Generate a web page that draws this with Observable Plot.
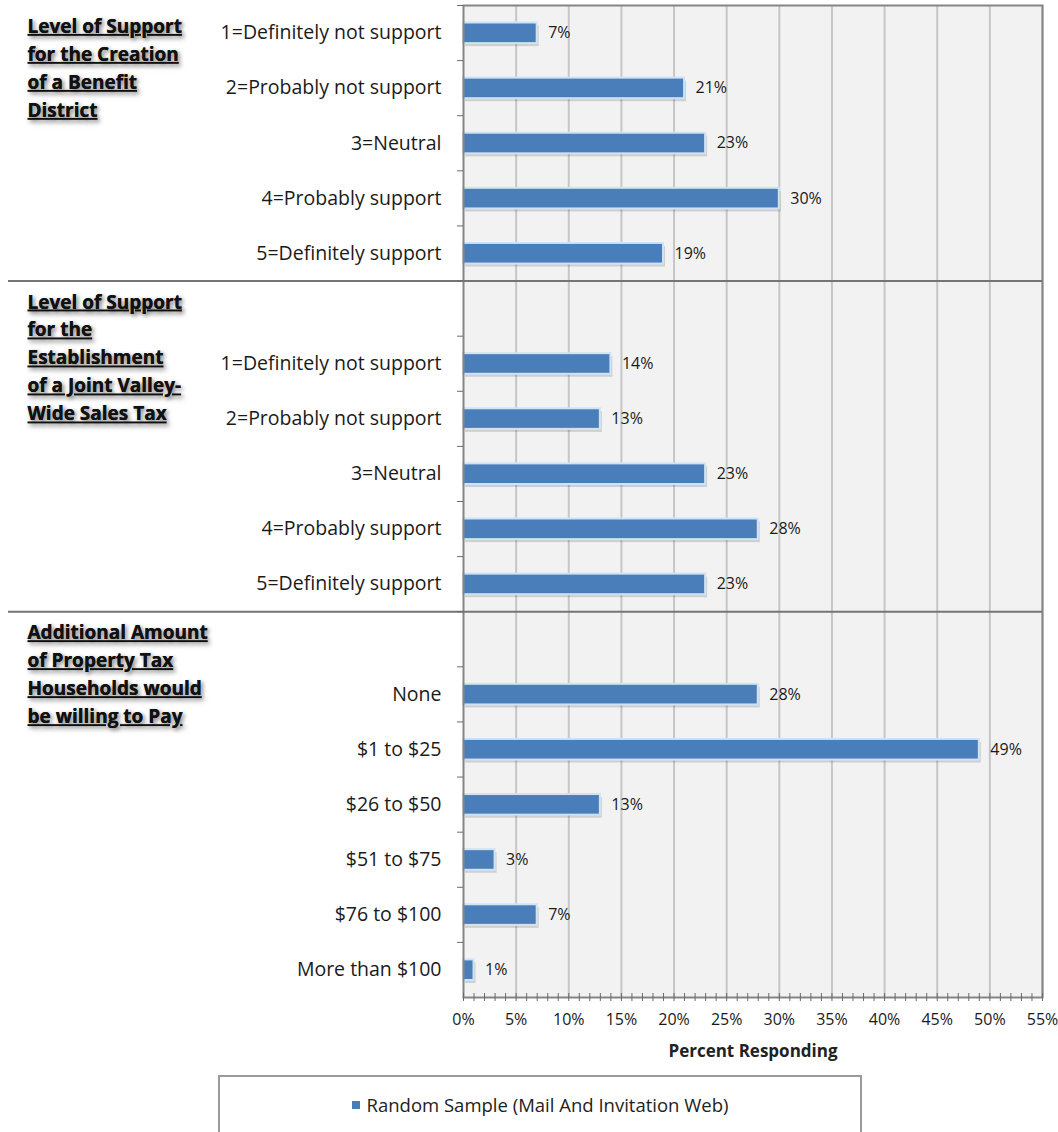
<!DOCTYPE html>
<html>
<head>
<meta charset="utf-8">
<script src="https://cdn.jsdelivr.net/npm/d3@7"></script>
<script src="https://cdn.jsdelivr.net/npm/@observablehq/plot@0.6"></script>
<style>
  body { margin: 0; background: #fff; font-family: "Open Sans", Lato, sans-serif; overflow: hidden; }
  #chart { position: absolute; left: 0; top: 0; }
  #legend {
    position: absolute; left: 218px; top: 1075px; width: 644px; height: 90px;
    box-sizing: border-box; border: 2px solid #9a9a9a; background: #fff;
    font-family: "Open Sans", sans-serif; font-size: 18.5px; color: #222;
  }
  #legend .item { position: absolute; top: 15px; left: 0; right: 0; text-align: center; }
  #legend .swatch { display: inline-block; width: 8px; height: 8px; background: #4a7ebb; margin-right: 7px; vertical-align: 3px; }
</style>
</head>
<body>
<div id="chart"></div>
<div id="legend"></div>
<script>
// ---- data ----
const benefitCats = ["1=Definitely not support", "2=Probably not support", "3=Neutral", "4=Probably support", "5=Definitely support"];
const benefitVals = [7, 21, 23, 30, 19];
const salesTaxCats = ["1=Definitely not support", "2=Probably not support", "3=Neutral", "4=Probably support", "5=Definitely support"];
const salesTaxVals = [14, 13, 23, 28, 23];
const propertyCats = ["None", "$1 to $25", "$26 to $50", "$51 to $75", "$76 to $100", "More than $100"];
const propertyVals = [28, 49, 13, 3, 7, 1];
const sectionTitles = [
  "Level of Support\nfor the Creation\nof a Benefit\nDistrict",
  "Level of Support\nfor the\nEstablishment\nof a Joint Valley-\nWide Sales Tax",
  "Additional Amount\nof Property Tax\nHouseholds would\nbe willing to Pay"
];
const xTicks = [0, 5, 10, 15, 20, 25, 30, 35, 40, 45, 50, 55];
const xMinorTicks = d3.range(0, 56, 1);
const seriesName = "Random Sample (Mail And Invitation Web)";
const xLabel = "Percent Responding";

// ---- build table ----
const sections = [
  {title: sectionTitles[0], cats: benefitCats, vals: benefitVals},
  {title: sectionTitles[1], cats: salesTaxCats, vals: salesTaxVals},
  {title: sectionTitles[2], cats: propertyCats, vals: propertyVals}
];
const rows = [];
const titleRows = [];
sections.forEach((s, i) => {
  if (i > 0) {
    const gap = {key: `s${i}-gap`, label: "", value: null, gap: true};
    rows.push(gap);
    titleRows.push({key: gap.key, title: s.title});
  }
  s.cats.forEach((c, j) => {
    const r = {key: `s${i}-${j}`, label: c, value: s.vals[j], gap: false};
    rows.push(r);
    if (i === 0 && j === 0) titleRows.push({key: r.key, title: s.title});
  });
});
const domain = rows.map(d => d.key);
const labelOf = new Map(rows.map(d => [d.key, d.label]));
const bars = rows.filter(d => !d.gap);
const titleLines = new Set(sectionTitles.flatMap(t => t.split("\n")));

const W = 1058, H = 1070, mT = 5, mB = 73, mL = 463, mR = 16;
const step = (H - mT - mB) / domain.length;
const blue = "#4a7ebb";

const chart = Plot.plot({
  width: W, height: H,
  marginTop: mT, marginBottom: mB, marginLeft: mL, marginRight: mR,
  style: {fontFamily: "'Open Sans', Lato, sans-serif", fontSize: "16px", color: "#222", background: "#fff"},
  x: {domain: [0, 55]},
  y: {domain, padding: 0, round: false},
  marks: [
    Plot.frame({fill: "#f2f2f2"}),
    Plot.ruleX(xTicks.slice(1), {stroke: "#c6c6c6", strokeWidth: 2}),
    // bar shadow
    Plot.barX(bars, {x: "value", y: "key", fill: "#000", fillOpacity: 0.14, dx: 2, dy: 3, insetTop: 17.5, insetBottom: 17}),
    Plot.barX(bars, {x: "value", y: "key", fill: blue, stroke: "#cfe3f5", strokeWidth: 2, insetTop: 17.5, insetBottom: 17}),
    Plot.text(bars, {x: "value", y: "key", text: d => d.value + "%", textAnchor: "start", dx: 11, fontSize: 16, fill: "#1a1a1a"}),
    Plot.frame({stroke: "#858585", strokeWidth: 2}),
    // section dividers
    Plot.ruleY(rows.filter(d => d.gap), {y: "key", dy: -step / 2, stroke: "#757575", strokeWidth: 2, insetLeft: -455}),
    // y ticks at band boundaries
    Plot.axisY({tickSize: 6, dy: -step / 2, tickFormat: () => "", stroke: "#6a6a6a", label: null}),
    // y labels
    Plot.axisY({tickSize: 0, tickPadding: 22, tickFormat: k => labelOf.get(k), fontSize: 19.5, fill: "#1a1a1a", label: null}),
    // x minor ticks crossing axis
    Plot.axisX({ticks: xMinorTicks, tickSize: 8, dy: -4, tickFormat: () => "", stroke: "#6a6a6a", label: null}),
    Plot.axisX({ticks: xTicks, tickSize: 0, tickPadding: 16, tickFormat: d => d + "%", fontSize: 16, fill: "#1a1a1a", label: null}),
    Plot.text([xLabel], {frameAnchor: "bottom", dy: 59, fontWeight: "bold", fontSize: 17, fill: "#222"}),
    // section titles
    Plot.text(titleRows, {y: "key", text: "title", frameAnchor: "left", dx: -436, dy: -20, textAnchor: "start", lineAnchor: "top",
      lineHeight: 28 / 19, fontSize: 19, fontWeight: "bold", fill: "#111"})
  ]
});

d3.select(chart).selectAll("text")
  .filter(function() {
    const ts = this.querySelectorAll("tspan");
    return ts.length > 1 && titleLines.has(ts[0].textContent);
  })
  .attr("text-decoration", "underline")
  .style("text-decoration", "underline")
  .style("text-shadow", "2px 2px 4px rgba(0,0,0,0.3)");

document.getElementById("chart").appendChild(chart);

const legend = document.getElementById("legend");
const item = document.createElement("div");
item.className = "item";
const sw = document.createElement("span");
sw.className = "swatch";
item.appendChild(sw);
item.appendChild(document.createTextNode(seriesName));
legend.appendChild(item);
</script>
</body>
</html>
